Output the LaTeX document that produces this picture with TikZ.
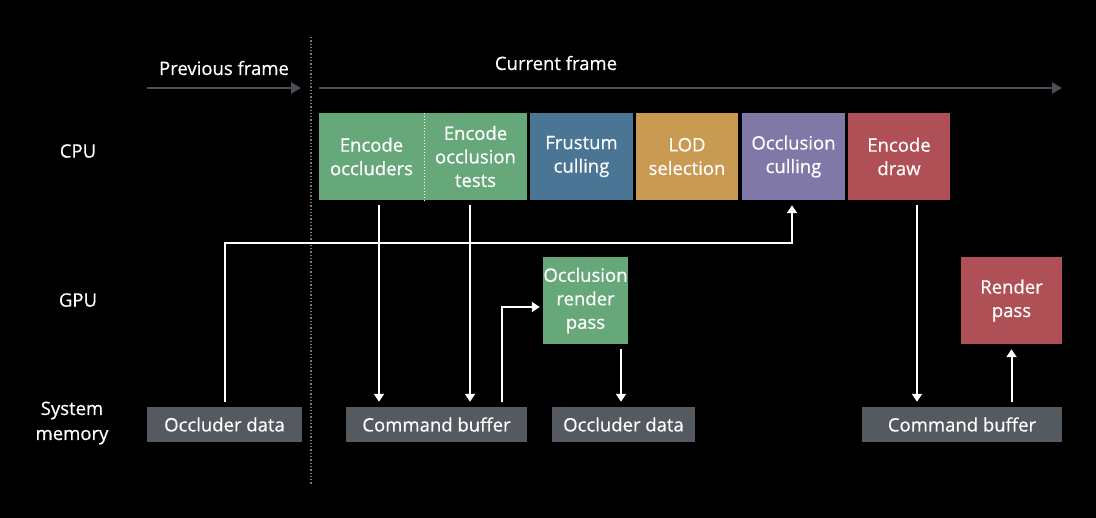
\documentclass[tikz,border=0pt]{standalone}
\usepackage{fontspec}
\setmainfont{Open Sans}
\newfontfamily\diagfont{Open Sans}[FakeBold=0.5]
\usetikzlibrary{arrows.meta,positioning}

\definecolor{occgreen}{RGB}{103,168,122}
\definecolor{frusblue}{RGB}{74,117,148}
\definecolor{lodorange}{RGB}{201,154,82}
\definecolor{cullpurple}{RGB}{128,121,168}
\definecolor{drawred}{RGB}{174,80,86}
\definecolor{memgray}{RGB}{84,90,96}
\definecolor{timegray}{RGB}{74,79,85}
\definecolor{splitgray}{RGB}{120,120,120}

\begin{document}
\begin{tikzpicture}[
  x=1pt, y=-1pt,
  every node/.style={font=\diagfont\fontsize{18.5}{23.5}\selectfont, text=white},
  stage/.style={rectangle, align=center, inner sep=0pt,
                minimum width=103pt, minimum height=87pt},
  mem/.style={rectangle, fill=memgray, inner sep=0pt, minimum height=35pt},
  lane/.style={align=center, font=\diagfont\fontsize{18.5}{25}\selectfont},
  flow/.style={-{Triangle[length=8pt,width=10pt]}, draw=white, line width=2pt},
  time/.style={-{Triangle[length=10pt,width=11pt]}, draw=timegray, line width=2.5pt}]

\fill[black] (0,0) rectangle (1096,518);
\useasboundingbox (0,0) rectangle (1096,518);

\node[lane] (cpu) at (78,151) {CPU};
\node[lane] (gpu) at (78,300) {GPU};
\node[lane] (sysmem) at (72,423) {System\\memory};

\node (prev) at (224,68) {Previous frame};
\node (curr) at (556,63) {Current frame};
\coordinate (prevs) at (147,88);
\coordinate (preve) at (301,88);
\coordinate (currs) at (319,88);
\coordinate (curre) at (1062,88);

\node[stage, fill=occgreen, minimum width=105pt] (encocc) at (371.5,156.5) {Encode\\occluders};
\node[stage, fill=occgreen] (enctest) at (475.5,156.5) {Encode\\occlusion\\tests};
\node[stage, fill=frusblue] (frustum) at (581.5,156.5) {Frustum\\culling};
\node[stage, fill=lodorange, minimum width=102pt] (lod) at (687,156.5) {LOD\\selection};
\node[stage, fill=cullpurple] (occcull) at (793.5,156.5) {Occlusion\\culling};
\node[stage, fill=drawred, minimum width=102pt] (encdraw) at (899,156.5) {Encode\\draw};

\node[stage, fill=occgreen, minimum width=85pt] (orpass) at (585.5,300.5) {Occlusion\\render\\pass};
\node[stage, fill=drawred, minimum width=101pt] (rpass) at (1011.5,300.5) {Render\\pass};

\node[mem, minimum width=155pt] (odprev) at (224.5,424.5) {Occluder data};
\node[mem, minimum width=181pt] (cmdocc) at (436.5,424.5) {Command buffer};
\node[mem, minimum width=143pt] (odcurr) at (623.5,424.5) {Occluder data};
\node[mem, minimum width=200pt] (cmddraw) at (962,424.5) {Command buffer};

\coordinate (feedback) at (0,243);

\draw[splitgray, dotted, line width=1.3pt] (311,37) -- (311,485);
\draw[white, dotted, line width=1pt] (encocc.north east) -- (encocc.south east);

\draw[time] (prevs) -- (preve);
\draw[time] (currs) -- (curre);

\draw[flow] ([yshift=5pt]odprev.north) -- (odprev.north |- feedback) -| ([xshift=-1.5pt,yshift=-5pt]occcull.south);
\draw[flow] ([xshift=7.5pt,yshift=-5pt]encocc.south) -- ([xshift=7.5pt,yshift=5pt]encocc.south |- cmdocc.north);
\draw[flow] ([xshift=-5.5pt,yshift=-5pt]enctest.south) -- ([xshift=-5.5pt,yshift=5pt]enctest.south |- cmdocc.north);
\draw[flow] ([xshift=65.5pt,yshift=5pt]cmdocc.north) |- ([xshift=-3pt,yshift=-6.5pt]orpass.west);
\draw[flow] ([xshift=35.5pt,yshift=-5pt]orpass.south) -- ([xshift=35.5pt,yshift=5pt]orpass.south |- odcurr.north);
\draw[flow] ([xshift=18pt,yshift=-5pt]encdraw.south) -- ([xshift=18pt,yshift=5pt]encdraw.south |- cmddraw.north);
\draw[flow] ([yshift=5pt]rpass.south |- cmddraw.north) -- ([yshift=-5pt]rpass.south);
\end{tikzpicture}
\end{document}
